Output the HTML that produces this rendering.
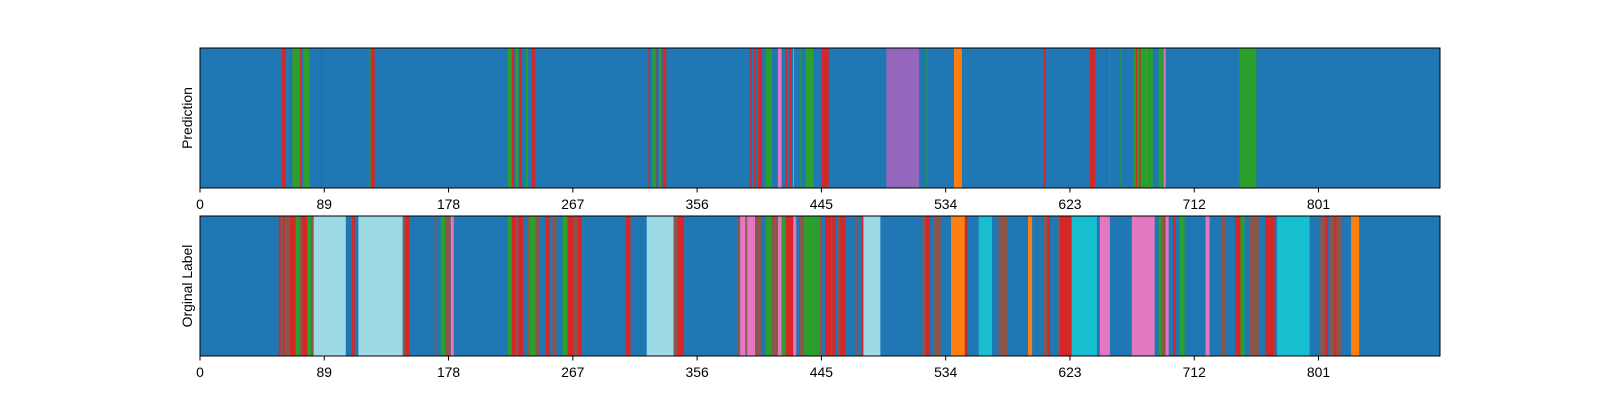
<!DOCTYPE html>
<html><head><meta charset="utf-8"><style>
html,body{margin:0;padding:0;background:#fff;overflow:hidden;width:1600px;height:400px;}
svg{display:block;font-family:"Liberation Sans","DejaVu Sans",sans-serif;}
</style></head><body>
<svg id="chart" width="1600" height="400"></svg>
<script>
const xMax = 888;
const tickValues = [0, 89, 178, 267, 356, 445, 534, 623, 712, 801];
const colorMap = {b:'#1f77b4',o:'#ff7f0e',g:'#2ca02c',r:'#d62728',p:'#9467bd',n:'#8c564b',k:'#e377c2',l:'#9edae5',c:'#17becf'};
const predictionSegments = [
[58.5,61.4,'r'],[65.4,65.9,'r'],[66.1,71.6,'g'],[71.6,72.4,'r'],[74,78.3,'g'],[86.7,87.2,'r'],[121.5,122.3,'g'],[122.3,125.1,'r'],
[220.4,223.3,'g'],[223.3,225,'r'],[226.1,228,'g'],[228.5,230.2,'r'],[233.3,234.7,'g'],[237.6,239.8,'r'],
[321.1,322.1,'r'],[324,326.3,'g'],[327,328,'r'],[328.7,330.1,'g'],[331.3,333.9,'r'],
[394,395.2,'r'],[396.8,398,'r'],[399.4,402.5,'r'],[405.1,409.4,'g'],[413.9,416.5,'k'],[419.4,420.5,'r'],[422,423.6,'r'],[424.8,425.3,'k'],
[429.6,430.1,'g'],[433.6,439.3,'g'],[445.2,450.2,'r'],[491.5,515,'p'],[520.2,520.7,'g'],[539.9,545.6,'o'],
[604.2,605.6,'r'],[637.3,640.9,'r'],[651.1,651.6,'g'],[658.7,659.2,'g'],[668.7,669.9,'g'],[670.1,671.3,'r'],[671.3,672.5,'g'],[672.5,673.7,'r'],
[673.7,679.6,'g'],[680.1,682.3,'g'],[686.5,689.6,'g'],[690.1,691.5,'k'],[744.4,756.5,'g']
];
const originalSegments = [
[56.4,57.6,'r'],[57.6,59.5,'n'],[59.5,60.7,'r'],[60.7,64.5,'n'],[64.5,68.5,'r'],[68.5,71.4,'g'],[71.4,73.3,'n'],[73.3,76.7,'r'],[76.7,79.5,'g'],[79.5,81.4,'n'],
[81.4,104.4,'l'],[108.7,110.8,'r'],[113.4,145.2,'l'],[145.2,147.3,'n'],[147.3,150,'r'],
[168.1,169.3,'n'],[172.4,175.5,'g'],[175.5,179.6,'n'],[179.6,181.7,'k'],
[220.4,223.3,'g'],[223.3,226.1,'r'],[226.1,228,'n'],[228,231.4,'r'],[234.7,235.9,'n'],[235.9,240.5,'g'],[240.5,242.9,'n'],[247.4,250.5,'r'],[252.4,255.3,'n'],
[259.6,263.2,'g'],[263.2,267.5,'r'],[267.5,270.3,'n'],[270.3,273.2,'r'],
[305,308.3,'r'],[319.9,339.2,'l'],[339.2,342.2,'n'],[342.2,346.7,'r'],
[385,386.8,'n'],[386.8,390.6,'k'],[390.6,391.8,'n'],[391.8,397.5,'k'],[397.5,402.3,'n'],[405.1,409.4,'g'],[409.4,413.9,'n'],[413.9,416.5,'k'],[416.5,419.4,'g'],
[419.4,424.8,'r'],[424.8,427,'k'],[429.6,432.4,'n'],[432.4,443.8,'g'],[443.8,445.5,'n'],[447.8,451.9,'r'],[451.9,452.8,'n'],[452.8,455,'r'],[456.9,458.5,'n'],
[458.5,462.3,'r'],[469.9,471.3,'n'],[473.7,475.1,'r'],[475.1,487.2,'l'],[517.4,519.7,'n'],[519.7,522.8,'r'],[525.7,530.4,'n'],[537.8,547.7,'o'],[547.7,549.9,'r'],
[557.7,567.2,'c'],[571.9,578.3,'n'],
[593,595.9,'o'],[604,606.8,'n'],[606.8,608.7,'r'],[614.7,615.9,'n'],[615.9,624.2,'r'],[624.2,642.3,'c'],[644.4,651.6,'k'],[667.3,683.7,'k'],
[686.5,688.7,'g'],[688.7,691.5,'n'],[691.5,693.7,'k'],[696.8,698.4,'r'],[701.5,705.1,'g'],[720.1,723,'k'],[731.5,734.4,'n'],
[741.3,745.1,'r'],[745.1,748,'g'],[751.5,758.2,'n'],[763,769.6,'r'],[771.3,794.6,'c'],
[802.2,805.8,'n'],[805.8,807.9,'r'],[809.4,812.4,'n'],[812.4,813.9,'r'],[813.9,817,'n'],[824.3,830.1,'o']
];
const NS='http://www.w3.org/2000/svg';
const svg=document.getElementById('chart');
const X0=200,X1=1440;
function xs(v){return X0+(X1-X0)*v/xMax;}
function mk(tag,attrs,parent){const e=document.createElementNS(NS,tag);for(const k in attrs)e.setAttribute(k,attrs[k]);(parent||svg).appendChild(e);return e;}
function panel(segs,top,bottom,label,name){
  const g=mk('g',{});
  
  
  const bg=mk('rect',{x:X0,y:top,width:X1-X0,height:bottom-top,fill:colorMap.b},g);
  
  
  segs.forEach(s=>{
    const r=mk('rect',{x:xs(s[0]),y:top,width:Math.max(0.8,xs(s[1])-xs(s[0])),height:bottom-top,fill:colorMap[s[2]]},g);
    
    
  });
  const f=mk('rect',{x:X0,y:top,width:X1-X0,height:bottom-top,fill:'none',stroke:'#000','stroke-width':1},g);
  
  
  tickValues.forEach(t=>{
    const tk=mk('line',{x1:xs(t),x2:xs(t),y1:bottom,y2:bottom+4.5,stroke:'#000','stroke-width':1},g);
    
    
    const tx=mk('text',{x:xs(t),y:bottom+21,'text-anchor':'middle','font-size':13.9,fill:'#000'},g);
    tx.textContent=t;
    
    
  });
  const cy=(top+bottom)/2;
  const yl=mk('text',{x:0,y:0,transform:`translate(192,${cy}) rotate(-90)`,'text-anchor':'middle','font-size':13.9,fill:'#000'},g);
  yl.textContent=label;
  
  
}
panel(predictionSegments,48,188,'Prediction','prediction-panel');
panel(originalSegments,216,356,'Orginal Label','original-label-panel');
</script>
</body></html>
